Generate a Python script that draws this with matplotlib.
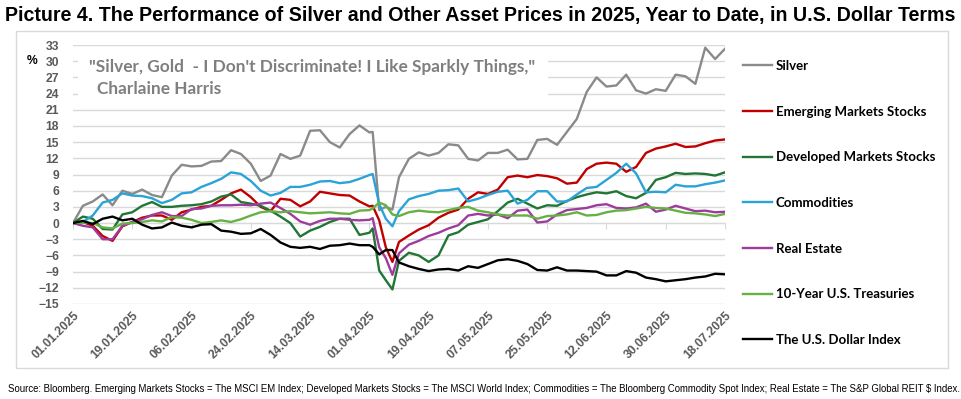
import matplotlib
matplotlib.use("Agg")
import numpy as np
import pandas as pd
import matplotlib.pyplot as plt
import matplotlib.dates as mdates
from matplotlib.patches import Rectangle

# days since 01.01.2025
day_offsets = [0, 3, 6, 9, 12, 15, 18, 21, 24, 27, 30, 33, 36, 39, 42, 45, 48, 51, 54, 57,
               60, 63, 66, 69, 72, 75, 78, 81, 84, 87, 90, 91, 93, 95, 97, 99, 102, 105, 108,
               111, 114, 117, 120, 123, 126, 129, 132, 135, 138, 141, 144, 147, 150, 153, 156,
               159, 162, 165, 168, 171, 174, 177, 180, 183, 186, 189, 192, 195, 198]

silver = [0, 3.2, 4.0, 5.3, 3.3, 6.0, 5.4, 6.2, 5.2, 4.8, 8.8, 10.8, 10.5, 10.6, 11.4, 11.5,
          13.5, 12.8, 11.0, 7.8, 8.8, 12.8, 11.9, 12.5, 17.1, 17.2, 15.0, 14.0, 16.5, 18.1,
          16.8, 16.9, 2.4, 3.0, 2.5, 8.5, 11.9, 13.1, 12.5, 13.0, 14.6, 14.4, 11.9, 11.6, 13.0,
          13.0, 13.6, 11.8, 11.9, 15.4, 15.6, 14.5, 16.9, 19.3, 24.3, 27.0, 25.3, 25.5, 27.5,
          24.6, 24.0, 24.8, 24.5, 27.5, 27.2, 25.8, 32.5, 30.4, 32.3]
em_stocks = [0, 0.2, -0.5, -2.4, -3.3, -0.6, 0.2, 1.0, 1.4, 1.4, 0.6, 2.0, 2.5, 3.0, 3.2, 4.3,
             5.5, 6.2, 4.8, 3.0, 2.2, 4.5, 4.3, 3.1, 4.0, 5.8, 5.5, 5.2, 5.1, 4.0, 3.1, 3.2,
             0.5, -4.5, -7.2, -3.5, -2.3, -1.2, -0.4, 1.0, 1.9, 2.5, 4.5, 5.7, 5.4, 6.2, 8.5,
             8.8, 8.5, 8.9, 8.7, 8.3, 7.3, 7.5, 10.0, 11.0, 11.2, 11.0, 9.5, 10.4, 13.0, 13.8,
             14.2, 14.7, 14.1, 14.2, 14.8, 15.3, 15.5]
dm_stocks = [0, 1.2, 0.8, -1.1, -1.2, 1.6, 2.0, 3.2, 3.9, 3.0, 3.0, 3.2, 3.3, 3.5, 4.0, 4.9,
             5.3, 3.9, 3.6, 3.2, 2.3, 1.2, 0.0, -2.5, -1.4, -0.7, 0.2, 0.8, 0.8, -2.2, -1.8,
             -1.0, -8.8, -10.6, -12.3, -7.0, -5.5, -6.0, -7.2, -6.0, -2.3, -1.7, -0.3, 0.2, 0.7,
             2.2, 3.8, 4.5, 3.6, 2.7, 3.3, 3.2, 4.1, 4.8, 5.3, 5.7, 5.5, 5.9, 5.0, 4.6, 5.6,
             8.0, 8.5, 9.3, 9.1, 9.2, 9.1, 8.8, 9.4]
commodities = [0, 0.2, 1.4, 3.8, 4.3, 5.5, 5.1, 5.0, 4.6, 3.7, 4.3, 5.5, 5.7, 6.7, 7.4, 8.2,
               9.4, 9.1, 7.8, 6.0, 5.1, 5.6, 6.7, 6.7, 7.1, 7.7, 7.8, 7.4, 7.6, 8.2, 8.9, 9.1,
               3.5, 0.8, -0.6, 2.2, 4.4, 5.0, 5.4, 6.0, 6.1, 6.4, 4.0, 4.5, 5.2, 5.8, 6.0, 3.6,
               4.3, 5.9, 5.9, 4.0, 4.0, 5.3, 6.5, 6.7, 8.0, 9.3, 11.0, 9.2, 5.7, 5.8, 5.7, 7.1,
               6.8, 6.8, 7.2, 7.5, 7.9]
real_estate = [0, -0.5, -0.8, -3.0, -3.0, -0.5, 0.2, 0.7, 1.5, 2.0, 1.3, 1.3, 2.6, 2.7, 3.2,
               3.3, 3.3, 3.4, 3.3, 3.6, 3.8, 2.8, 1.7, 0.3, -0.3, 0.4, 0.8, 0.8, 0.6, 0.5, 0.6,
               0.9, -4.5, -6.5, -9.6, -5.6, -4.0, -3.3, -2.4, -1.8, -1.0, -0.4, 1.4, 1.7, 1.4,
               1.6, 0.9, 2.3, 2.5, 0.1, 0.3, 1.6, 2.4, 2.6, 2.8, 3.3, 3.5, 2.8, 2.7, 2.9, 3.6,
               2.1, 2.5, 3.2, 2.7, 2.2, 2.3, 2.0, 2.1]
treasuries = [0, 0.1, 0.0, -0.8, -1.0, -0.1, 0.0, 0.2, 0.5, 0.3, 1.1, 1.0, 0.6, 0.0, 0.2, 0.5,
              0.2, 0.7, 1.4, 2.0, 2.2, 2.0, 2.2, 2.0, 1.8, 1.9, 2.0, 1.8, 1.7, 2.3, 2.4, 2.7,
              3.8, 3.3, 1.6, 1.3, 2.0, 2.3, 2.1, 2.0, 2.4, 2.8, 3.0, 2.3, 2.0, 1.6, 1.4, 1.4,
              1.4, 0.8, 1.3, 1.4, 1.6, 2.0, 1.4, 1.5, 2.0, 2.3, 2.4, 2.7, 3.0, 2.8, 2.7, 2.3,
              1.9, 1.8, 1.6, 1.3, 1.7]
usd_index = [0, 0.4, -0.2, 0.8, 1.2, 0.5, 0.8, -0.3, -1.0, -0.8, 0.1, -0.5, -0.8, -0.3, -0.2,
             -1.4, -1.6, -2.0, -1.9, -1.1, -2.2, -3.6, -4.4, -4.6, -4.4, -4.8, -4.2, -4.1, -3.8,
             -4.1, -4.1, -4.4, -5.8, -5.0, -5.0, -7.3, -8.0, -8.5, -8.9, -8.6, -8.5, -8.8, -8.0,
             -8.3, -7.6, -6.9, -6.7, -7.0, -7.6, -8.7, -8.8, -8.2, -8.8, -8.8, -8.9, -9.0, -9.7,
             -9.7, -8.9, -9.2, -10.1, -10.4, -10.8, -10.6, -10.4, -10.1, -9.9, -9.4, -9.5]

series_labels = ["Silver", "Emerging Markets Stocks", "Developed Markets Stocks", "Commodities",
                 "Real Estate", "10-Year U.S. Treasuries", "The U.S. Dollar Index"]
series_values = [silver, em_stocks, dm_stocks, commodities, real_estate, treasuries, usd_index]
series_colors = ["#8a8a8a", "#c00000", "#217535", "#2aa3d6", "#9e3c9e", "#66b044", "#000000"]

y_ticks = list(range(-15, 34, 3))
x_tick_step_days = 18

dates = pd.Timestamp("2025-01-01") + pd.to_timedelta(day_offsets, unit="D")

fig = plt.figure(figsize=(9.61, 3.99), dpi=100)
W, H = 961, 399
ax = fig.add_axes([73 / W, 1 - 304 / H, (725 - 73) / W, (304 - 45) / H])

for vals, lab, col in zip(series_values, series_labels, series_colors):
    ax.plot(dates, vals, color=col, lw=1.7, label=lab, solid_joinstyle="round")

ax.set_ylim(-15, 33)
ax.set_xlim(dates[0], dates[-1])
ax.set_yticks(y_ticks)
xt = pd.date_range("2025-01-01", "2025-07-18", freq=f"{x_tick_step_days}D")
ax.set_xticks(xt)
ax.xaxis.set_major_formatter(mdates.DateFormatter("%d.%m.%Y"))
ax.grid(axis="y", color="#d9d9d9", lw=1)
ax.set_axisbelow(True)
for s in ax.spines.values():
    s.set_visible(False)

tick_font = dict(family="Liberation Sans", weight="bold", size=8.7)
ax.tick_params(axis="both", length=0, colors="#595959")
ax.tick_params(axis="y", pad=10)
ax.tick_params(axis="x", pad=4)
for t in ax.get_yticklabels():
    t.set_fontproperties(tick_font)
for t in ax.get_xticklabels():
    t.set_fontproperties(tick_font)
    t.set_rotation(45)
    t.set_ha("right")
    t.set_va("top")
    t.set_rotation_mode("anchor")

# horizontal axis line at zero with tick marks
zero_pos = (0 - (-15)) / (33 - (-15))
sec = ax.secondary_xaxis(zero_pos)
sec.set_xticks(xt)
sec.tick_params(axis="x", direction="out", length=4, color="#d9d9d9", labelbottom=False,
                labeltop=False)
sec.spines["bottom"].set_color("#d9d9d9")
sec.spines["top"].set_visible(False)

# white box behind quote
ax.add_patch(Rectangle((0.008, 0.78), 0.72, 0.20, transform=ax.transAxes,
                       facecolor="white", edgecolor="none", zorder=1.5))
quote_font = dict(family="Lato", weight="bold", size=12.4, color="#7f7f7f")
fig.text(89 / W, 1 - 67 / H, "\"Silver, Gold  - I Don't Discriminate! I Like Sparkly Things,\"",
         va="center", ha="left", **quote_font)
fig.text(97 / W, 1 - 89 / H, "Charlaine Harris", va="center", ha="left", **quote_font)

fig.text(32 / W, 1 - 61 / H, "%", ha="center", va="center", family="Liberation Sans",
         weight="bold", size=8.7, color="black")

leg = ax.legend(loc="upper left", bbox_to_anchor=(743 / W, 1 - 60 / H),
                bbox_transform=fig.transFigure, frameon=False, borderpad=0,
                borderaxespad=0, handlelength=2.2, handletextpad=0.3, labelspacing=2.55,
                prop=dict(family="Lato", weight="bold", size=9.5))

fig.text(5 / W, 1 - 16 / H,
         "Picture 4. The Performance of Silver and Other Asset Prices in 2025, Year to Date, in U.S. Dollar Terms",
         ha="left", va="center", family="Liberation Sans", weight="bold", size=14.1)

fig.patches.append(Rectangle((16 / W, 1 - 368 / H), 932 / W, 337 / H, transform=fig.transFigure,
                             facecolor="none", edgecolor="#d9d9d9", lw=1))

fig.text(8 / W, 1 - 389 / H,
         "Source: Bloomberg. Emerging Markets Stocks = The MSCI EM Index; Developed Markets Stocks = The MSCI World Index; Commodities = The Bloomberg Commodity Spot Index; Real Estate = The S&P Global REIT $ Index.",
         ha="left", va="center", family="Liberation Sans", size=6.9, parse_math=False)

fig.savefig("out.png", dpi=100)
